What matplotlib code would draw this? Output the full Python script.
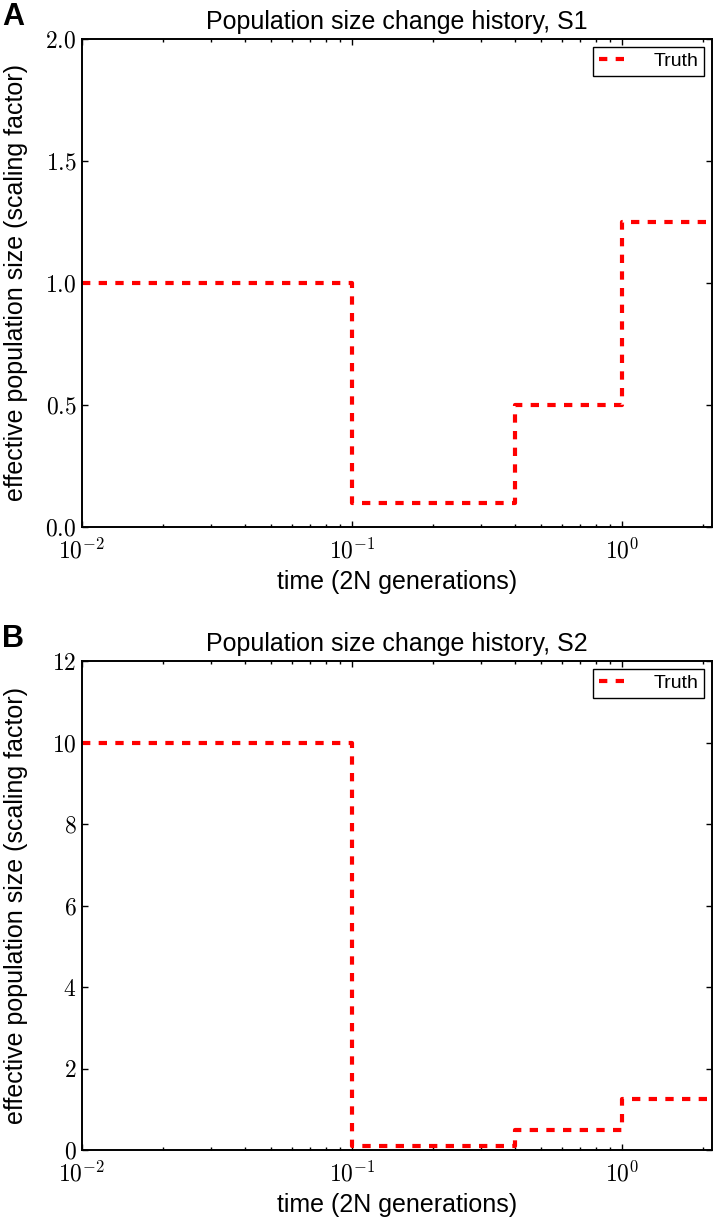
import math

import matplotlib
matplotlib.use("Agg")
import matplotlib.pyplot as plt
from matplotlib.ticker import FixedLocator, FuncFormatter, LogLocator, NullFormatter

# step history: size holds from TIMES[i] up to TIMES[i+1]
TIMES = [0.01, 0.1, 0.4, 1.0, 2.15]
SIZES_S1 = [1.0, 0.1, 0.5, 1.25, 1.25]
SIZES_S2 = [10.0, 0.1, 0.5, 1.25, 1.25]

TITLES = ["Population size change history, S1", "Population size change history, S2"]
YTICKS_S1 = [0.0, 0.5, 1.0, 1.5, 2.0]
YTICKS_S2 = [0, 2, 4, 6, 8, 10, 12]
XTICKS = [0.01, 0.1, 1.0]

plt.rcParams['font.family'] = ['Liberation Sans', 'DejaVu Sans']
plt.rcParams['mathtext.fontset'] = 'cm'
plt.rcParams['axes.linewidth'] = 1.4


def plotPanel(ax, sizes, title, yticks, yfmt):
    '''
    Draw one step history panel
    '''
    ax.plot(TIMES, sizes, drawstyle='steps-post', color='#ff0000', lw=3,
            ls=(0, (2, 2)), label='Truth')
    ax.set_xscale('log')
    ax.set_xlim(TIMES[0], TIMES[-1])
    ax.set_ylim(yticks[0], yticks[-1])
    ax.xaxis.set_major_locator(FixedLocator(XTICKS))
    ax.xaxis.set_major_formatter(FuncFormatter(lambda v, p: r'$10^{%d}$' % round(math.log10(v))))
    ax.xaxis.set_minor_locator(LogLocator(base=10, subs=range(2, 10)))
    ax.xaxis.set_minor_formatter(NullFormatter())
    ax.yaxis.set_major_locator(FixedLocator(yticks))
    ax.yaxis.set_major_formatter(FuncFormatter(lambda v, p: yfmt % v))
    ax.tick_params(which='both', direction='in', top=True, right=True,
                   labelsize=17, width=1)
    ax.tick_params(which='major', length=4.5)
    ax.tick_params(which='minor', length=2.2)
    ax.tick_params(axis='x', which='major', pad=8)
    ax.tick_params(axis='y', which='major', pad=4)
    ax.set_title(title, fontsize=18, pad=7)
    ax.set_xlabel('time (2N generations)', fontsize=18, labelpad=5)
    ax.set_ylabel('effective population size (scaling factor)', fontsize=18)
    ax.yaxis.set_label_coords(-0.0856, 0.5)
    leg = ax.legend(loc='upper right', fontsize=14, fancybox=False, framealpha=1,
                    handlelength=1.4, handletextpad=1.4, borderpad=0.3,
                    borderaxespad=0.4)
    leg.get_frame().set_edgecolor('black')
    leg.get_frame().set_linewidth(1)


fig = plt.figure(figsize=(7.18, 12.19), dpi=100)
ax1 = fig.add_axes([0.1142, 0.5677, 0.8774, 0.4003])
ax2 = fig.add_axes([0.1142, 0.0566, 0.8774, 0.4011])

plotPanel(ax1, SIZES_S1, TITLES[0], YTICKS_S1, r'$%.1f$')
plotPanel(ax2, SIZES_S2, TITLES[1], YTICKS_S2, r'$%d$')

fig.text(0.003, 1 - 25 / 1219, 'A', fontsize=22, fontweight='bold', va='baseline')
fig.text(0.003, 1 - 647 / 1219, 'B', fontsize=22, fontweight='bold', va='baseline')

fig.savefig('out.png', dpi=100)
